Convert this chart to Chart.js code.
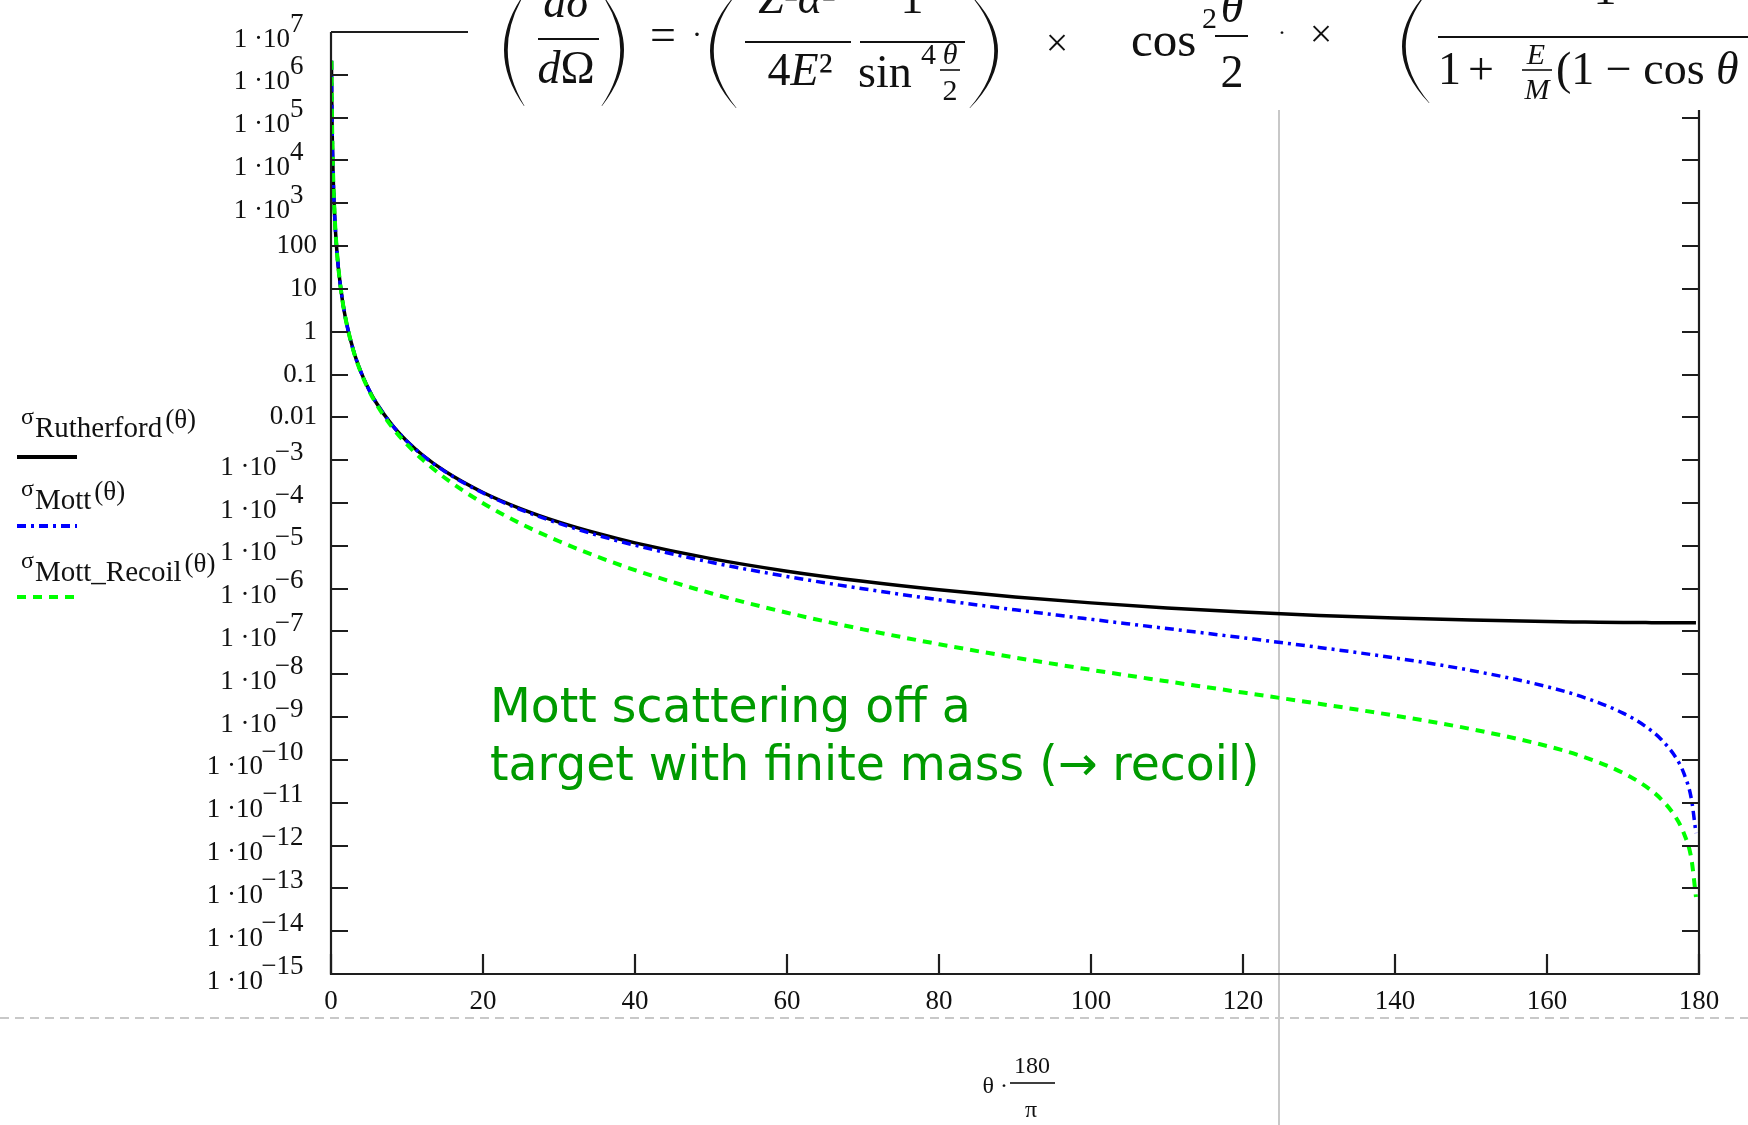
<!DOCTYPE html>
<html><head><meta charset="utf-8">
<script src="https://cdn.jsdelivr.net/npm/chart.js@4.4.1/dist/chart.umd.min.js"></script>
<style>html,body{margin:0;padding:0;background:#fff;overflow:hidden}canvas{display:block}</style>
</head><body>
<canvas id="c" width="1748" height="1125" style="width:1748px;height:1125px"></canvas>
<script>
// ---- data ----
const angles = [0.06,0.08,0.1,0.15,0.2,0.3,0.5,0.75,1,1.5,2,3,4,5,6,8,10,12,15,20,25,30,35,40,50,60,70,80,90,100,110,120,130,140,150,160,165,170,173,175,177,178,179,179.6];
const sigmaRutherford = [2.13e6,6.73e5,2.75e5,5.45e4,1.72e4,3.40e3,441,87.1,27.5,5.44,1.72,0.340,0.108,0.0441,0.0213,6.76e-3,2.77e-3,1.34e-3,5.51e-4,1.76e-4,7.30e-5,3.56e-5,1.96e-5,1.17e-5,5.02e-6,2.56e-6,1.48e-6,9.37e-7,6.40e-7,4.65e-7,3.55e-7,2.84e-7,2.37e-7,2.05e-7,1.84e-7,1.70e-7,1.66e-7,1.62e-7,1.61e-7,1.60e-7,1.60e-7,1.60e-7,1.60e-7,1.60e-7];
const sigmaMott = [2.13e6,6.73e5,2.75e5,5.45e4,1.72e4,3.40e3,441,87.1,27.5,5.44,1.72,0.340,0.108,0.0440,0.0212,6.73e-3,2.75e-3,1.32e-3,5.41e-4,1.71e-4,6.95e-5,3.33e-5,1.78e-5,1.03e-5,4.12e-6,1.92e-6,9.93e-7,5.50e-7,3.20e-7,1.92e-7,1.17e-7,7.11e-8,4.24e-8,2.40e-8,1.23e-8,5.13e-9,2.82e-9,1.24e-9,6.00e-10,3.05e-10,1.10e-10,4.89e-11,1.22e-11,1.95e-12];
const sigmaMottRecoil = [2.13e6,6.73e5,2.75e5,5.45e4,1.72e4,3.40e3,441,87.1,27.5,5.42,1.71,0.335,0.1045,0.0422,0.0200,6.03e-3,2.33e-3,1.05e-3,3.84e-4,9.90e-5,3.27e-5,1.28e-5,5.62e-6,2.71e-6,7.80e-7,2.74e-7,1.12e-7,5.04e-8,2.46e-8,1.27e-8,6.84e-9,3.74e-9,2.05e-9,1.08e-9,5.26e-10,2.11e-10,1.15e-10,4.98e-11,2.40e-11,1.22e-11,4.39e-12,1.95e-12,4.86e-13,6.3e-14];
const xTickValues = [0,20,40,60,80,100,120,140,160,180];
const yTickValues = [1e7,1e6,1e5,1e4,1e3,100,10,1,0.1,0.01,1e-3,1e-4,1e-5,1e-6,1e-7,1e-8,1e-9,1e-10,1e-11,1e-12,1e-13,1e-14,1e-15];
const yTickBase = ['1 ·10','1 ·10','1 ·10','1 ·10','1 ·10','100','10','1','0.1','0.01','1 ·10','1 ·10','1 ·10','1 ·10','1 ·10','1 ·10','1 ·10','1 ·10','1 ·10','1 ·10','1 ·10','1 ·10','1 ·10'];
const yTickExponent = ['7','6','5','4','3','','','','','','−3','−4','−5','−6','−7','−8','−9','−10','−11','−12','−13','−14','−15'];
const seriesNames = ['Rutherford','Mott','Mott_Recoil'];
const annotationLines = ['Mott scattering off a','target with finite mass (→ recoil)'];

// ---- helpers ----
const SERIF = '"Liberation Serif", "Times New Roman", serif';
const R = s => s + 'px ' + SERIF;
const I = s => 'italic ' + s + 'px ' + SERIF;
const TICK_SIZE = 27;
const mctx = document.createElement('canvas').getContext('2d');
mctx.font = R(TICK_SIZE);
const spaceW = mctx.measureText(' ').width;
function yLabel(i) {
  const base = yTickBase[i], ex = yTickExponent[i];
  if (!ex) return base;
  const n = Math.round(mctx.measureText(ex).width / spaceW) + 2;
  return [ex + '  ', base + ' '.repeat(n)];
}
function run(ctx, parts, x, y, align) {
  let w = 0;
  parts.forEach(p => { ctx.font = p.f; p.w = ctx.measureText(p.s).width; w += p.w + (p.gap || 0); });
  let cx = align === 'center' ? x - w / 2 : (align === 'right' ? x - w : x);
  ctx.textAlign = 'left'; ctx.textBaseline = 'alphabetic';
  parts.forEach(p => { ctx.font = p.f; ctx.fillText(p.s, cx, y + (p.dy || 0)); cx += p.w + (p.gap || 0); });
  return w;
}
function bar(ctx, x1, x2, y, w) { w = w || 2; ctx.fillRect(x1, y - w / 2, x2 - x1, w); }
function paren(ctx, open, xl, xr, top, bot, th) {
  const mid = (top + bot) / 2; th = th || 3.5;
  ctx.beginPath();
  if (open) {
    ctx.moveTo(xr, top);
    ctx.quadraticCurveTo(2 * xl - xr, mid, xr, bot);
    ctx.lineTo(xr + 0.5, bot);
    ctx.quadraticCurveTo(2 * (xl + th) - xr, mid, xr + 0.5, top);
  } else {
    ctx.moveTo(xl, top);
    ctx.quadraticCurveTo(2 * xr - xl, mid, xl, bot);
    ctx.lineTo(xl - 0.5, bot);
    ctx.quadraticCurveTo(2 * (xr - th) - xl, mid, xl - 0.5, top);
  }
  ctx.closePath(); ctx.fill();
}

const decor = {
  id: 'decor',
  beforeDraw(chart) {
    const ctx = chart.ctx;
    ctx.save(); ctx.fillStyle = '#fff'; ctx.fillRect(0, 0, chart.width, chart.height); ctx.restore();
  },
  beforeDatasetsDraw(chart) {
    const ctx = chart.ctx;
    ctx.save();
    ctx.strokeStyle = '#c8c8c8'; ctx.lineWidth = 2;
    ctx.setLineDash([9, 6]);
    ctx.beginPath(); ctx.moveTo(0, 1018); ctx.lineTo(chart.width, 1018); ctx.stroke();
    ctx.setLineDash([]);
    ctx.beginPath(); ctx.moveTo(1279, 110); ctx.lineTo(1279, chart.height); ctx.stroke();
    ctx.restore();
  },
  afterDatasetsDraw(chart) {
    const {ctx, chartArea: a, scales: {x, y}} = chart;
    ctx.save();
    ctx.strokeStyle = '#1e1e1e'; ctx.lineWidth = 2.2;
    ctx.beginPath();
    ctx.moveTo(a.left, a.top); ctx.lineTo(a.left, a.bottom); ctx.lineTo(a.right, a.bottom);
    ctx.lineTo(a.right, a.top); ctx.lineTo(a.left, a.top); ctx.stroke();
    ctx.beginPath();
    y.ticks.forEach(t => {
      const py = Math.round(y.getPixelForValue(t.value));
      ctx.moveTo(a.left, py); ctx.lineTo(a.left + 17, py);
      ctx.moveTo(a.right, py); ctx.lineTo(a.right - 17, py);
    });
    x.ticks.forEach(t => {
      const px = Math.round(x.getPixelForValue(t.value));
      ctx.moveTo(px, a.bottom); ctx.lineTo(px, a.bottom - 20);
    });
    ctx.stroke();
    ctx.restore();
  },
  afterDraw(chart) {
    const ctx = chart.ctx;
    ctx.save();
    // equation panel (covers the top of the frame)
    ctx.fillStyle = '#fff'; ctx.fillRect(468, 0, chart.width - 468, 110);
    ctx.fillStyle = '#111';
    // (dσ/dΩ)
    paren(ctx, true, 504, 524, -6, 106);
    run(ctx, [{s: 'd', f: I(46)}, {s: 'σ', f: I(46)}], 566, 17, 'center');
    bar(ctx, 538, 599, 39);
    run(ctx, [{s: 'd', f: I(46)}, {s: 'Ω', f: R(46)}], 566, 83, 'center');
    paren(ctx, false, 602, 624, -6, 106);
    run(ctx, [{s: '=', f: R(46)}], 663, 50, 'center');
    run(ctx, [{s: '·', f: R(30)}], 697, 44, 'center');
    // (Z²α²/4E² · 1/sin⁴(θ/2))
    paren(ctx, true, 710, 736, -6, 108);
    run(ctx, [{s: 'Z', f: I(46)}, {s: '²', f: R(46)}, {s: 'α', f: I(46)}, {s: '²', f: R(46)}], 797, 13, 'center');
    bar(ctx, 745, 851, 42);
    run(ctx, [{s: '4', f: R(46)}, {s: 'E', f: I(46)}, {s: '²', f: R(46)}], 800, 85, 'center');
    run(ctx, [{s: '1', f: R(46)}], 912, 13, 'center');
    bar(ctx, 860, 965, 42);
    run(ctx, [{s: 'sin', f: R(46)}], 858, 87, 'left');
    run(ctx, [{s: '4', f: R(30)}], 921, 64, 'left');
    run(ctx, [{s: 'θ', f: I(30)}], 950, 64, 'center');
    bar(ctx, 940, 960, 70, 1.6);
    run(ctx, [{s: '2', f: R(30)}], 950, 100, 'center');
    paren(ctx, false, 970, 998, -6, 108);
    run(ctx, [{s: '×', f: R(40)}], 1057, 56, 'center');
    // cos²(θ/2)
    run(ctx, [{s: 'cos', f: R(49)}], 1131, 56, 'left');
    run(ctx, [{s: '2', f: R(30)}], 1202, 28, 'left');
    run(ctx, [{s: 'θ', f: I(46)}], 1232, 22, 'center');
    bar(ctx, 1215, 1248, 36);
    run(ctx, [{s: '2', f: R(46)}], 1232, 87, 'center');
    run(ctx, [{s: '·', f: R(24)}], 1282, 40, 'center');
    run(ctx, [{s: '×', f: R(40)}], 1321, 47, 'center');
    // (1/(1+E/M(1−cosθ)))
    paren(ctx, true, 1402, 1429, -10, 103);
    run(ctx, [{s: '1', f: R(46)}], 1605, 4, 'center');
    bar(ctx, 1438, 1748, 37);
    run(ctx, [{s: '1', f: R(46)}], 1438, 84, 'left');
    run(ctx, [{s: '+', f: R(46)}], 1481, 84, 'center');
    run(ctx, [{s: 'E', f: I(30)}], 1536, 64, 'center');
    bar(ctx, 1522, 1552, 70, 1.6);
    run(ctx, [{s: 'M', f: I(30)}], 1537, 99, 'center');
    run(ctx, [{s: '(1 − cos ', f: R(46)}, {s: 'θ', f: I(46)}], 1556, 84, 'left');

    // legend (drawn from datasets)
    const rows = [{base: 437, line: 457}, {base: 509, line: 526}, {base: 581, line: 597}];
    chart.data.datasets.forEach((ds, i) => {
      const r = rows[i];
      ctx.fillStyle = '#111';
      let x0 = 21;
      ctx.textAlign = 'left'; ctx.textBaseline = 'alphabetic';
      ctx.font = R(24); ctx.fillText('σ', x0, r.base - 13); x0 += ctx.measureText('σ').width + 1;
      ctx.font = R(29); ctx.fillText(seriesNames[i], x0, r.base); x0 += ctx.measureText(seriesNames[i]).width + 3;
      ctx.font = R(27); ctx.fillText('(θ)', x0, r.base - 9);
      ctx.strokeStyle = ds.borderColor; ctx.lineWidth = 4; ctx.setLineDash(ds.borderDash || []);
      ctx.beginPath(); ctx.moveTo(17, r.line); ctx.lineTo(77, r.line); ctx.stroke();
      ctx.setLineDash([]);
    });

    // x axis title θ·180/π
    ctx.fillStyle = '#111';
    run(ctx, [{s: 'θ', f: R(24)}, {s: ' ·', f: R(24)}], 1008, 1093, 'right');
    run(ctx, [{s: '180', f: R(24)}], 1032, 1073, 'center');
    bar(ctx, 1010, 1055, 1083, 1.6);
    run(ctx, [{s: 'π', f: R(24)}], 1031, 1117, 'center');

    // annotation
    ctx.fillStyle = '#009a00';
    const fam = '"DejaVu Sans", "Open Sans", sans-serif';
    ctx.font = '50px ' + fam;
    const w2 = ctx.measureText(annotationLines[1]).width;
    const fs = 50 * 770 / w2;
    ctx.font = fs.toFixed(1) + 'px ' + fam;
    ctx.textAlign = 'left'; ctx.textBaseline = 'alphabetic';
    ctx.fillText(annotationLines[0], 490, 722);
    ctx.fillText(annotationLines[1], 490, 780);
    ctx.restore();
  }
};

Chart.defaults.font.family = SERIF;
Chart.defaults.color = '#111';
const pts = arr => angles.map((a, i) => ({x: a, y: arr[i]}));

new Chart(document.getElementById('c'), {
  type: 'line',
  data: {
    datasets: [
      {label: 'σ' + seriesNames[0] + '(θ)', data: pts(sigmaRutherford), borderColor: '#000000', borderWidth: 3.5, order: 2},
      {label: 'σ' + seriesNames[1] + '(θ)', data: pts(sigmaMott), borderColor: '#0000ff', borderWidth: 3.5, borderDash: [9, 5, 3, 5], order: 1},
      {label: 'σ' + seriesNames[2] + '(θ)', data: pts(sigmaMottRecoil), borderColor: '#00ff00', borderWidth: 4, borderDash: [9, 7], order: 0}
    ]
  },
  options: {
    responsive: false,
    animation: false,
    events: [],
    devicePixelRatio: 1,
    layout: {padding: {top: 32, right: 49, left: 0, bottom: 0}},
    elements: {point: {radius: 0}, line: {cubicInterpolationMode: 'monotone', fill: false}},
    plugins: {legend: {display: false}, tooltip: {enabled: false}},
    scales: {
      x: {
        type: 'linear', min: 0, max: 180,
        grid: {display: false, drawTicks: false},
        border: {display: false},
        afterBuildTicks: s => { s.ticks = xTickValues.map(v => ({value: v})); },
        afterFit: s => { s.height = 151; },
        ticks: {autoSkip: false, maxRotation: 0, padding: 12, color: '#111', font: {size: TICK_SIZE, family: SERIF},
          callback: (v, i) => String(xTickValues[i])}
      },
      y: {
        type: 'logarithmic', min: 1e-15, max: 1e7,
        grid: {display: false, drawTicks: false},
        border: {display: false},
        afterBuildTicks: s => { s.ticks = yTickValues.map(v => ({value: v})); },
        afterFit: s => { s.width = 331; },
        ticks: {autoSkip: false, padding: 14, color: '#111', font: {size: TICK_SIZE, family: SERIF, lineHeight: 0.55},
          callback: (v, i) => yLabel(i)}
      }
    }
  },
  plugins: [decor]
});
</script>
</body></html>
